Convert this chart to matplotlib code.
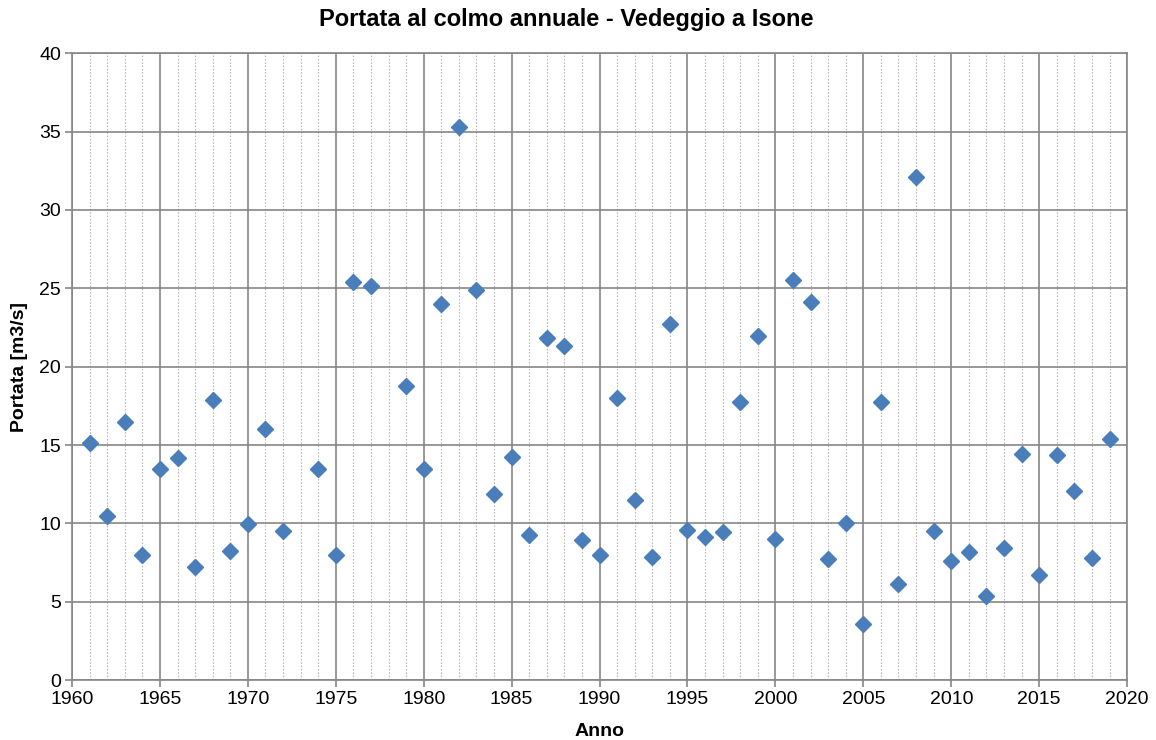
import matplotlib.pyplot as plt
from matplotlib.ticker import MultipleLocator

# Annual peak discharge
anni = [1961, 1962, 1963, 1964, 1965, 1966, 1967, 1968, 1969, 1970,
        1971, 1972, 1974, 1975, 1976, 1977, 1979, 1980, 1981, 1982,
        1983, 1984, 1985, 1986, 1987, 1988, 1989, 1990, 1991, 1992,
        1993, 1994, 1995, 1996, 1997, 1998, 1999, 2000, 2001, 2002,
        2003, 2004, 2005, 2006, 2007, 2008, 2009, 2010, 2011, 2012,
        2013, 2014, 2015, 2016, 2017, 2018, 2019]
portata = [15.1, 10.5, 16.5, 8.0, 13.5, 14.2, 7.2, 17.9, 8.25, 9.95,
           16.0, 9.5, 13.5, 8.0, 25.4, 25.15, 18.75, 13.45, 24.0, 35.3,
           24.9, 11.9, 14.25, 9.25, 21.8, 21.3, 8.95, 7.95, 18.0, 11.5,
           7.85, 22.7, 9.6, 9.15, 9.45, 17.75, 21.95, 9.0, 25.55, 24.1,
           7.7, 10.0, 3.55, 17.75, 6.1, 32.1, 9.5, 7.6, 8.15, 5.35,
           8.4, 14.4, 6.7, 14.35, 12.05, 7.8, 15.4]

plt.rcParams['font.family'] = ['Liberation Sans', 'DejaVu Sans']

fig = plt.figure(figsize=(11.56, 7.40), dpi=100)
ax = fig.add_axes([0.0623, 0.081, 0.9127, 0.847])

ax.plot(anni, portata, linestyle='none', marker='D', markersize=8.5,
        color='#4A7EBB', zorder=3, clip_on=False)

ax.set_xlim(1960, 2020)
ax.set_ylim(0, 40)
ax.xaxis.set_major_locator(MultipleLocator(5))
ax.xaxis.set_minor_locator(MultipleLocator(1))
ax.yaxis.set_major_locator(MultipleLocator(5))

ax.grid(which='major', axis='both', color='#868686', linewidth=1.2)
ax.grid(which='minor', axis='x', color='#b8b8b8', linewidth=0.8, linestyle=(0, (1.5, 1.5)))
ax.set_axisbelow(True)

for s in ax.spines.values():
    s.set_color('#868686')
    s.set_linewidth(1.2)

ax.tick_params(which='major', direction='out', length=5, color='#868686',
               labelsize=14, width=1.2, pad=3)
ax.tick_params(which='minor', length=0)

ax.set_xlabel('Anno', fontsize=14, fontweight='bold', labelpad=11)
ax.set_ylabel('Portata [m3/s]', fontsize=14, fontweight='bold', labelpad=8)
fig.suptitle('Portata al colmo annuale - Vedeggio a Isone', fontsize=17,
             fontweight='bold', x=0.49, y=0.973, va='center')

fig.savefig('out.png', dpi=100)
